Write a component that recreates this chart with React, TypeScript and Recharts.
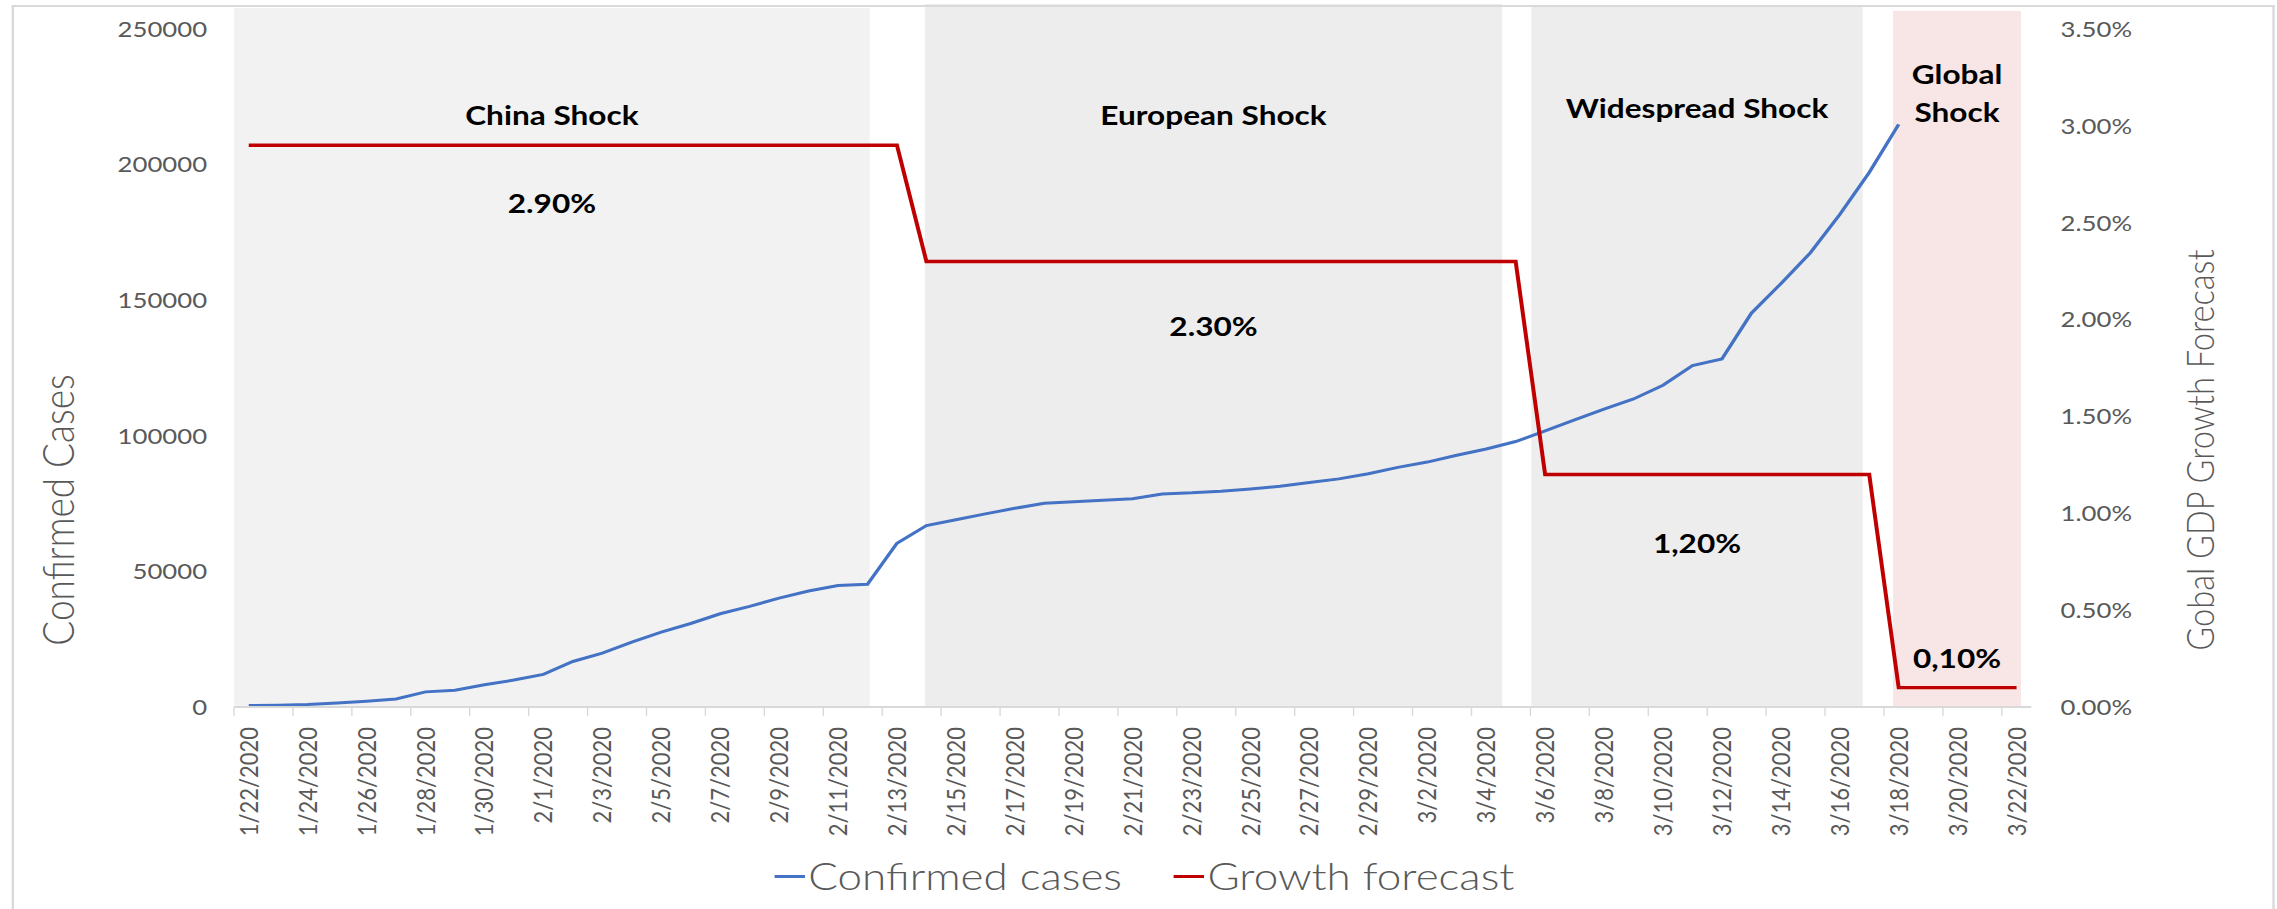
import React from 'react';
import { ComposedChart, Line, XAxis, YAxis, ReferenceArea, Legend } from 'recharts';

// ---------------- data ----------------
const dates = [
  '1/22/2020', '1/23/2020', '1/24/2020', '1/25/2020', '1/26/2020', '1/27/2020', '1/28/2020', '1/29/2020', '1/30/2020', '1/31/2020',
  '2/1/2020', '2/2/2020', '2/3/2020', '2/4/2020', '2/5/2020', '2/6/2020', '2/7/2020', '2/8/2020', '2/9/2020', '2/10/2020',
  '2/11/2020', '2/12/2020', '2/13/2020', '2/14/2020', '2/15/2020', '2/16/2020', '2/17/2020', '2/18/2020', '2/19/2020', '2/20/2020',
  '2/21/2020', '2/22/2020', '2/23/2020', '2/24/2020', '2/25/2020', '2/26/2020', '2/27/2020', '2/28/2020', '2/29/2020',
  '3/1/2020', '3/2/2020', '3/3/2020', '3/4/2020', '3/5/2020', '3/6/2020', '3/7/2020', '3/8/2020', '3/9/2020', '3/10/2020',
  '3/11/2020', '3/12/2020', '3/13/2020', '3/14/2020', '3/15/2020', '3/16/2020', '3/17/2020', '3/18/2020', '3/19/2020', '3/20/2020',
  '3/21/2020', '3/22/2020',
];

const confirmedCases = [
  555, 654, 941, 1434, 2118, 2927, 5578, 6166, 8234, 9927,
  12038, 16787, 19881, 23892, 27635, 30794, 34391, 37120, 40150, 42762,
  44802, 45221, 60368, 66885, 69030, 71224, 73258, 75136, 75639, 76197,
  76819, 78572, 78958, 79561, 80406, 81388, 82746, 84112, 86011,
  88369, 90306, 92840, 95120, 97886, 101801, 105847, 109821, 113590, 118620,
  125875, 128352, 145205, 156101, 167454, 181574, 197102, 214821,
];

const growthForecast = [
  2.9, 2.9, 2.9, 2.9, 2.9, 2.9, 2.9, 2.9, 2.9, 2.9,
  2.9, 2.9, 2.9, 2.9, 2.9, 2.9, 2.9, 2.9, 2.9, 2.9,
  2.9, 2.9, 2.9, 2.3, 2.3, 2.3, 2.3, 2.3, 2.3, 2.3,
  2.3, 2.3, 2.3, 2.3, 2.3, 2.3, 2.3, 2.3, 2.3,
  2.3, 2.3, 2.3, 2.3, 2.3, 1.2, 1.2, 1.2, 1.2, 1.2,
  1.2, 1.2, 1.2, 1.2, 1.2, 1.2, 1.2, 0.1, 0.1, 0.1,
  0.1, 0.1,
];

const caseTicks = [0, 50000, 100000, 150000, 200000, 250000];
const growthTicks = [0, 0.5, 1, 1.5, 2, 2.5, 3, 3.5];

const shockTitles = [['China Shock'], ['European Shock'], ['Widespread Shock'], ['Global', 'Shock']];
const shockForecastLabels = ['2.90%', '2.30%', '1,20%', '0,10%'];
const shockFirstDay = ['1/22/2020', '2/14/2020', '3/6/2020', '3/18/2020'];
const shockLastDay = ['2/12/2020', '3/5/2020', '3/17/2020', '3/22/2020'];

const seriesNames = ['Confirmed cases', 'Growth forecast'];

// ---------------- layout / style ----------------
const W = 1946;
const H = 909;
const STRETCH = 2277 / W;
const FONT = 'Lato, "Open Sans", "DejaVu Sans", sans-serif';
const GRAY_TEXT = '#595959';
const BLUE = '#4472C4';
const RED = '#C00000';
const PLOT_LEFT = 200;
const PLOT_RIGHT_W = 210;
const HALF_BAND = (W - PLOT_LEFT - PLOT_RIGHT_W) / dates.length / 2;

// fine placement of each shaded period, in fractions of a day band
const shockLayout = [
  { from: 0, to: 21.58, top: 257700, fill: '#F2F2F2', titleY: [125], valueY: 213 },
  { from: 23.45, to: 43.04, top: 259200, fill: '#EDEDED', titleY: [125], valueY: 336 },
  { from: 44.03, to: 55.28, top: 258500, fill: '#EDEDED', titleY: [118.5], valueY: 553 },
  { from: 56.31, to: 60.65, top: 256700, fill: '#F8E5E5', titleY: [84.5, 121.7], valueY: 668 },
];

const rows = dates.map((d, i) => ({
  date: d,
  cases: i < confirmedCases.length ? confirmedCases[i] : null,
  growth: growthForecast[i],
}));

if (typeof document !== 'undefined') {
  document.body.style.overflow = 'hidden';
}

const boldText = { fontFamily: FONT, fontWeight: 700, fontSize: 27, fill: '#000000' } as const;

// maps the full-band rect of a period to its fine placement
const adjustSpan = (k: number, x: number, width: number) => {
  const i1 = dates.indexOf(shockFirstDay[k]);
  const i2 = dates.indexOf(shockLastDay[k]);
  const band = width / (i2 - i1 + 1);
  const lay = shockLayout[k];
  return { x: x + (lay.from - i1) * band, width: (lay.to - lay.from) * band };
};

const makeShockShape = (k: number) => (props: any) => {
  const { x, y, width, height } = props;
  const a = adjustSpan(k, x, width);
  return <rect x={a.x} y={y} width={a.width} height={height} fill={shockLayout[k].fill} stroke="none" />;
};

const makeShockLabel = (k: number) => (props: any) => {
  const vb = props.viewBox || {};
  const a = adjustSpan(k, vb.x || 0, vb.width || 0);
  const cx = a.x + a.width / 2;
  const lay = shockLayout[k];
  return (
    <g>
      {shockTitles[k].map((t, j) => (
        <text key={j} x={cx} y={lay.titleY[j]} textAnchor="middle" {...boldText}>
          {t}
        </text>
      ))}
      <text x={cx} y={lay.valueY} textAnchor="middle" {...boldText}>
        {shockForecastLabels[k]}
      </text>
    </g>
  );
};

const renderXTick = (props: any) => {
  const { x, y, payload } = props;
  const idx = dates.indexOf(payload.value);
  if (idx % 2 !== 0) return <g />;
  const half = typeof payload.offset === 'number' && payload.offset > 0 ? payload.offset : HALF_BAND;
  const ty = y + 20;
  return (
    <g>
      <line x1={x - half} x2={x - half} y1={y} y2={y + 9} stroke="#D9D9D9" strokeWidth={1.2} />
      <text
        x={x}
        y={ty}
        dy="0.35em"
        transform={`rotate(-90 ${x} ${ty})`}
        textAnchor="end"
        fontFamily={FONT}
        fontSize={22}
        fill={GRAY_TEXT}
      >
        {payload.value}
      </text>
    </g>
  );
};

const LeftTitle = () => (
  <text
    x={63}
    y={510}
    transform="rotate(-90 63 510)"
    textAnchor="middle"
    fontFamily={FONT}
    fontWeight={300}
    fontSize={37}
    fill={GRAY_TEXT}
  >
    Confirmed Cases
  </text>
);

const RightTitle = () => (
  <text
    x={1892}
    y={450}
    transform="rotate(-90 1892 450)"
    textAnchor="middle"
    fontFamily={FONT}
    fontWeight={300}
    fontSize={32.6}
    fill={GRAY_TEXT}
  >
    Gobal GDP Growth Forecast
  </text>
);

const renderLegend = (props: any) => {
  const items = props.payload || [];
  return (
    <div
      style={{
        height: 66,
        display: 'flex',
        justifyContent: 'center',
        alignItems: 'center',
        paddingLeft: 10,
        fontFamily: FONT,
        fontWeight: 300,
        fontSize: 37.6,
        color: GRAY_TEXT,
        whiteSpace: 'nowrap',
      }}
    >
      {items.map((it: any, i: number) => (
        <div key={i} style={{ display: 'flex', alignItems: 'center', marginLeft: i ? 44 : 0 }}>
          <span style={{ display: 'inline-block', width: 26, height: 3, background: it.color, marginRight: 3 }} />
          <span style={{ lineHeight: '66px' }}>{it.value}</span>
        </div>
      ))}
    </div>
  );
};

export default function App() {
  return (
    <div
      style={{
        position: 'absolute',
        left: 0,
        top: 0,
        width: W,
        height: H,
        transform: `scaleX(${STRETCH})`,
        transformOrigin: '0 0',
        background: '#FFFFFF',
      }}
    >
      <ComposedChart width={W} height={H} data={rows} margin={{ top: 29, right: 0, bottom: 0, left: 0 }}>
        <XAxis
          xAxisId="cat"
          dataKey="date"
          type="category"
          scale="band"
          interval={0}
          height={136}
          tickSize={0}
          tickMargin={0}
          tickLine={false}
          axisLine={{ stroke: '#D9D9D9', strokeWidth: 2 }}
          tick={renderXTick}
        />
        <YAxis
          yAxisId="left"
          orientation="left"
          width={PLOT_LEFT}
          domain={[0, 250000]}
          ticks={caseTicks}
          interval={0}
          axisLine={false}
          tickLine={false}
          tickSize={0}
          tickMargin={23}
          tick={{ fill: GRAY_TEXT, fontSize: 22, fontFamily: FONT }}
          label={{ content: LeftTitle }}
        />
        <YAxis
          yAxisId="right"
          orientation="right"
          width={PLOT_RIGHT_W}
          domain={[0, 3.5]}
          ticks={growthTicks}
          interval={0}
          axisLine={false}
          tickLine={false}
          tickSize={0}
          tickMargin={25}
          tickFormatter={(v: number) => v.toFixed(2) + '%'}
          tick={{ fill: GRAY_TEXT, fontSize: 22, fontFamily: FONT }}
          label={{ content: RightTitle }}
        />
        {shockLayout.map((s, k) => (
          <ReferenceArea
            key={k}
            xAxisId="cat"
            yAxisId="left"
            x1={shockFirstDay[k]}
            x2={shockLastDay[k]}
            y1={0}
            y2={s.top}
            fill={s.fill}
            fillOpacity={1}
            stroke="none"
            ifOverflow="visible"
            shape={makeShockShape(k)}
            label={makeShockLabel(k)}
          />
        ))}
        <Line
          xAxisId="cat"
          yAxisId="left"
          type="linear"
          dataKey="cases"
          name={seriesNames[0]}
          stroke={BLUE}
          strokeWidth={3}
          dot={false}
          activeDot={false}
          isAnimationActive={false}
        />
        <Line
          xAxisId="cat"
          yAxisId="right"
          type="linear"
          dataKey="growth"
          name={seriesNames[1]}
          stroke={RED}
          strokeWidth={3.4}
          dot={false}
          activeDot={false}
          isAnimationActive={false}
        />
        <Legend verticalAlign="bottom" align="center" content={renderLegend} />
      </ComposedChart>
      <div
        style={{
          position: 'absolute',
          left: 9.5,
          top: 4.5,
          width: 1934,
          height: H - 4.5,
          boxSizing: 'border-box',
          borderTop: '2px solid #D9D9D9',
          borderLeft: '2px solid #D9D9D9',
          borderRight: '2px solid #D9D9D9',
          pointerEvents: 'none',
        }}
      />
    </div>
  );
}
